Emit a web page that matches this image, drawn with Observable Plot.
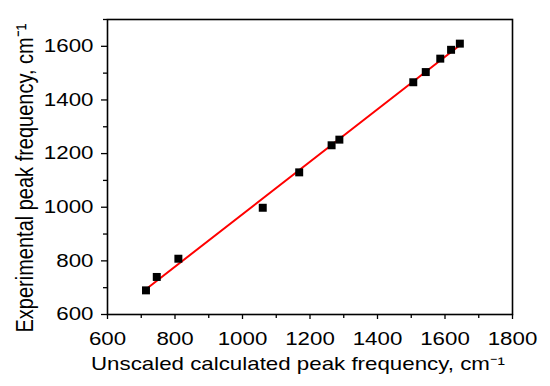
<!DOCTYPE html>
<html><head><meta charset="utf-8">
<script src="https://cdn.jsdelivr.net/npm/d3@7"></script>
<script src="https://cdn.jsdelivr.net/npm/@observablehq/plot@0.6"></script>
<style>
html,body{margin:0;padding:0;background:#fff;}
#chart svg{display:block;}
</style>
</head><body><div id="chart"></div>
<script>
// Unscaled calculated peak frequency (cm^-1)
const calculated = [714, 746, 810, 1060, 1168, 1264, 1287, 1506, 1543, 1586, 1618, 1644];
// Experimental peak frequency (cm^-1)
const experimental = [690, 740, 808, 998, 1130, 1231, 1252, 1466, 1504, 1554, 1587, 1610];

const xMajorTicks = [600, 800, 1000, 1200, 1400, 1600, 1800];
const xMinorTicks = [700, 900, 1100, 1300, 1500, 1700];
const yMajorTicks = [600, 800, 1000, 1200, 1400, 1600];
const yMinorTicks = [700, 900, 1100, 1300, 1500, 1700];

const xLabel = "Unscaled calculated peak frequency, cm\u207B\u00B9";
const yLabel = "Experimental peak frequency, cm\u207B\u00B9";

const points = calculated.map((c, i) => ({calc: c, exp: experimental[i]}));

const FONT = "'Liberation Sans', Arial, sans-serif";

const chart = Plot.plot({
  width: 550,
  height: 386,
  marginLeft: 107,
  marginRight: 38,
  marginTop: 19,
  marginBottom: 72,
  style: {fontFamily: FONT, fontSize: "18px", color: "#000", background: "#fff"},
  x: {domain: [600, 1800]},
  y: {domain: [600, 1700]},
  marks: [
    Plot.axisX({ticks: xMajorTicks, tickSize: 5, text: null, label: null, strokeWidth: 1.3}),
    Plot.text(xMajorTicks, {x: d => d, text: d => String(d), frameAnchor: "bottom", lineAnchor: "top", textAnchor: "middle", dy: 18, fontSize: 18, fill: "#000"}),
    Plot.axisX({ticks: xMinorTicks, tickSize: 4, text: null, label: null, strokeWidth: 1.3}),
    Plot.axisY({ticks: yMajorTicks, tickSize: 6, tickPadding: 8, tickFormat: d => String(d), label: null, strokeWidth: 1.3, fontSize: 18}),
    Plot.axisY({ticks: yMinorTicks, tickSize: 4, text: null, label: null, strokeWidth: 1.3}),
    Plot.frame({stroke: "#000", strokeWidth: 1.6}),
    Plot.linearRegressionY(points, {x: "calc", y: "exp", ci: 0, stroke: "#ff0000", strokeWidth: 2}),
    Plot.dot(points, {x: "calc", y: "exp", symbol: "square", r: 4.5, fill: "#000", stroke: null}),
    Plot.text([xLabel], {text: d => d, frameAnchor: "bottom", textAnchor: "middle", dx: -12, dy: 50, lineAnchor: "middle", fontSize: 18, fill: "#000"}),
    Plot.text([yLabel], {text: d => d, frameAnchor: "left", textAnchor: "middle", rotate: -90, dx: -82, dy: 11, lineAnchor: "middle", fontSize: 20, fill: "#000"})
  ]
});
document.getElementById("chart").appendChild(chart);

// The reference figure was stretched horizontally; widen glyphs to match.
const SX = 1.24;
d3.select(chart).selectAll("text").each(function() {
  const el = d3.select(this);
  const t = el.attr("transform");
  const rotated = t && /rotate/.test(t);
  const s = rotated ? `scale(1,${SX})` : `scale(${SX},1)`;
  if (t) el.attr("transform", t + " " + s);
  else {
    const x = +el.attr("x") || 0, y = +el.attr("y") || 0;
    el.attr("transform", `translate(${x},${y}) ${s} translate(${-x},${-y})`);
  }
});
</script>
</body></html>
